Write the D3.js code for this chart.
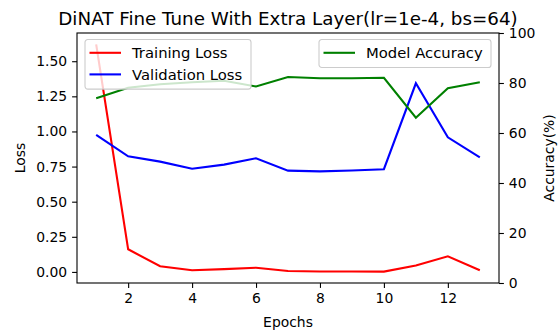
<!DOCTYPE html>
<html>
<head>
<meta charset="utf-8">
<script src="https://cdn.jsdelivr.net/npm/d3@7"></script>
<style>
  body { margin: 0; background: #fff; }
  svg text { font-family: "DejaVu Sans", sans-serif; fill: #000; }
</style>
</head>
<body>
<div id="chart"></div>
<script>
// data
const epochs = [1, 2, 3, 4, 5, 6, 7, 8, 9, 10, 11, 12, 13];
const trainingLoss = [1.62, 0.161, 0.04, 0.012, 0.02, 0.03, 0.007, 0.003, 0.003, 0.002, 0.045, 0.111, 0.012];
const validationLoss = [0.976, 0.823, 0.785, 0.735, 0.764, 0.809, 0.721, 0.716, 0.722, 0.731, 1.343, 0.958, 0.815];
const modelAccuracy = [73.9, 78.1, 79.5, 80.3, 80.9, 78.6, 82.4, 81.9, 81.9, 82.1, 66.1, 77.9, 80.3];
const xTicks = [2, 4, 6, 8, 10, 12];
const lossTicks = [0, 0.25, 0.5, 0.75, 1.0, 1.25, 1.5];
const accTicks = [0, 20, 40, 60, 80, 100];

const config = {
  width: 558,
  height: 332,
  margin: {top: 33, right: 59, bottom: 49, left: 77},
  tickFont: 13.9,
  legendFont: 14.8,
  titleFont: 18.3
};

const innerW = config.width - config.margin.left - config.margin.right;
const innerH = config.height - config.margin.top - config.margin.bottom;

const svg = d3.select('#chart').append('svg')
  .attr('width', config.width)
  .attr('height', config.height);

const g = svg.append('g')
  .attr('transform', `translate(${config.margin.left},${config.margin.top})`);

// matplotlib style 5% margins
const xPad = (d3.max(epochs) - d3.min(epochs)) * 0.05;
const x = d3.scaleLinear()
  .domain([d3.min(epochs) - xPad, d3.max(epochs) + xPad])
  .range([0, innerW]);

const allLoss = trainingLoss.concat(validationLoss);
const lossPad = (d3.max(allLoss) - d3.min(allLoss)) * 0.05;
const yLoss = d3.scaleLinear()
  .domain([d3.min(allLoss) - lossPad, d3.max(allLoss) + lossPad])
  .range([innerH, 0]);

const yAcc = d3.scaleLinear()
  .domain([0, 100])
  .range([innerH, 0]);

function styleAxis(sel) {
  sel.select('.domain').remove();
  sel.selectAll('.tick line').attr('stroke', '#000').attr('stroke-width', 1.1);
  sel.selectAll('.tick text')
    .style('font-size', config.tickFont + 'px')
    .attr('fill', '#000');
}

g.append('g')
  .attr('transform', `translate(0,${innerH})`)
  .call(d3.axisBottom(x).tickValues(xTicks).tickSize(4.9).tickPadding(4.9).tickFormat(d3.format('d')))
  .call(styleAxis);

g.append('g')
  .call(d3.axisLeft(yLoss).tickValues(lossTicks).tickSize(4.9).tickPadding(4.9).tickFormat(d3.format('.2f')))
  .call(styleAxis);

g.append('g')
  .attr('transform', `translate(${innerW},0)`)
  .call(d3.axisRight(yAcc).tickValues(accTicks).tickSize(4.9).tickPadding(4.9).tickFormat(d3.format('d')))
  .call(styleAxis);

const lineLoss = vals => d3.line()
  .x((d, i) => x(epochs[i]))
  .y(d => yLoss(d))(vals);

const lineAcc = d3.line()
  .x((d, i) => x(epochs[i]))
  .y(d => yAcc(d));

g.append('clipPath').attr('id', 'plotclip')
  .append('rect').attr('width', innerW).attr('height', innerH);

const plot = g.append('g').attr('clip-path', 'url(#plotclip)');

plot.append('path')
  .attr('d', lineLoss(trainingLoss))
  .attr('fill', 'none').attr('stroke', 'red').attr('stroke-width', 2.1);

plot.append('path')
  .attr('d', lineLoss(validationLoss))
  .attr('fill', 'none').attr('stroke', 'blue').attr('stroke-width', 2.1);

function legend(x0, y0, w, items) {
  const rowH = 21.6;
  const h = 28 + (items.length - 1) * rowH;
  const lg = g.append('g').attr('transform', `translate(${x0},${y0})`);
  lg.append('rect')
    .attr('width', w).attr('height', h)
    .attr('rx', 2.8)
    .attr('fill', '#fff').attr('fill-opacity', 0.8)
    .attr('stroke', '#cccccc').attr('stroke-width', 1.1);
  items.forEach((it, i) => {
    const cy = 13.3 + i * rowH;
    lg.append('line')
      .attr('x1', 4.5).attr('x2', 36)
      .attr('y1', cy).attr('y2', cy)
      .attr('stroke', it.color).attr('stroke-width', 2.1);
    lg.append('text')
      .attr('x', 47).attr('y', cy)
      .attr('dy', '0.36em')
      .style('font-size', config.legendFont + 'px')
      .text(it.label);
  });
}

legend(8, 6.5, 166, [
  {label: 'Training Loss', color: 'red'},
  {label: 'Validation Loss', color: 'blue'}
]);

plot.append('path')
  .datum(modelAccuracy)
  .attr('d', lineAcc)
  .attr('fill', 'none').attr('stroke', 'green').attr('stroke-width', 2.1);

legend(innerW - 8 - 172, 6.5, 172, [
  {label: 'Model Accuracy', color: 'green'}
]);

// frame
g.append('rect')
  .attr('width', innerW).attr('height', innerH)
  .attr('fill', 'none').attr('stroke', '#000').attr('stroke-width', 1.1);

// titles
svg.append('text')
  .attr('x', config.margin.left + innerW / 2)
  .attr('y', config.margin.top - 8.3)
  .attr('text-anchor', 'middle')
  .style('font-size', config.titleFont + 'px')
  .text('DiNAT Fine Tune With Extra Layer(lr=1e-4, bs=64)');

svg.append('text')
  .attr('x', config.margin.left + innerW / 2)
  .attr('y', 327)
  .attr('text-anchor', 'middle')
  .style('font-size', config.tickFont + 'px')
  .text('Epochs');

svg.append('text')
  .attr('transform', `translate(24.5,${config.margin.top + innerH / 2}) rotate(-90)`)
  .attr('text-anchor', 'middle')
  .style('font-size', config.tickFont + 'px')
  .text('Loss');

svg.append('text')
  .attr('transform', `translate(554,${config.margin.top + innerH / 2}) rotate(-90)`)
  .attr('text-anchor', 'middle')
  .style('font-size', config.tickFont + 'px')
  .text('Accuracy(%)');
</script>
</body>
</html>
